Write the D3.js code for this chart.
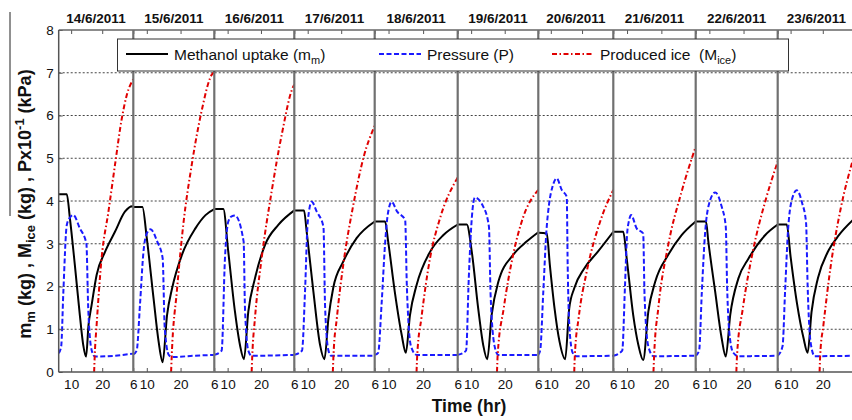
<!DOCTYPE html>
<html>
<head>
<meta charset="utf-8">
<title>Methanol uptake, pressure and produced ice</title>
<style>
  body { margin: 0; background: #fff; }
  svg { display: block; font-family: Arial, "Liberation Sans", sans-serif; }
</style>
</head>
<body>
<div id="chart"></div>
<script src="https://d3js.org/d3.v7.min.js"></script>
<script>

// one panel per day, each running from 6 h to 6 h of the next day
var days = ["14/6/2011", "15/6/2011", "16/6/2011", "17/6/2011", "18/6/2011",
            "19/6/2011", "20/6/2011", "21/6/2011", "22/6/2011", "23/6/2011"];
var hourTicks      = [10, 20, 30];
var hourTickLabels = ["10", "20", "6"];
var yTicks = [0, 1, 2, 3, 4, 5, 6, 7, 8];
var gridValues = [1, 2, 3, 4, 5, 6, 7];

// [hour of the day, value]
var methanol = [
  [[6,4.16],[8.6,4.16],[9.6,3.6],[11.2,2.5],[12.8,1.33],[13.9,0.63],[14.8,0.36],[15.6,1.1],[16.6,1.57],[18.2,2.27],[20.9,2.81],[24.1,3.28],[27.3,3.75],[29.7,3.88],[30,3.86]],
  [[6,3.86],[8.7,3.86],[10,3.13],[12,1.72],[13.5,0.71],[14.7,0.23],[16,1.33],[17.5,1.96],[20.4,2.74],[24.4,3.36],[27.4,3.67],[30,3.81]],
  [[6,3.81],[8.7,3.81],[10.2,2.81],[12.2,1.41],[13.7,0.63],[14.9,0.3],[16.2,1.41],[18.2,2.19],[21.2,2.97],[25.2,3.44],[30,3.78]],
  [[6,3.78],[8.9,3.78],[9.7,3.28],[11.7,1.88],[13.7,0.63],[15,0.3],[16.2,1.26],[17.6,1.96],[20.6,2.58],[24.6,3.13],[30,3.52]],
  [[6,3.52],[9,3.52],[9.9,3.05],[11.8,1.88],[13.8,0.87],[15,0.45],[16.2,1.33],[18.1,2.03],[22,2.81],[25.8,3.2],[30,3.45]],
  [[6,3.45],[8.7,3.45],[10.2,2.81],[12.1,1.49],[13.6,0.63],[14.8,0.3],[16.1,1.33],[18.1,2.11],[22.5,2.74],[26.5,3.05],[30,3.27]],
  [[6,3.26],[8.7,3.24],[9.7,2.5],[11.2,1.49],[12.8,0.71],[14.6,0.3],[15.9,1.49],[17.5,1.96],[20.7,2.42],[25,2.81],[30,3.28]],
  [[6,3.28],[8.9,3.28],[9.9,2.66],[11.8,1.33],[13.3,0.63],[14.7,0.28],[16.2,1.41],[18.2,2.11],[22,2.74],[25.9,3.2],[30,3.52]],
  [[6,3.52],[9,3.52],[9.7,3.05],[11.7,1.88],[13.6,0.79],[14.8,0.36],[16.1,1.33],[18.5,2.19],[21.5,2.66],[26.3,3.2],[30,3.45]],
  [[6,3.45],[8.8,3.45],[10,2.7],[12,1.6],[14,0.8],[15.3,0.45],[16.5,1.4],[18.5,2.2],[21.5,2.8],[25,3.2],[29.3,3.55]]
];
var pressure = [
  [[6,0.44],[6.8,0.6],[7.5,1.88],[8.6,3.44],[9.5,3.6],[10.7,3.67],[12.8,3.36],[14.9,3.01],[15.5,1.49],[16.6,0.51],[17.7,0.36],[24,0.38],[30,0.43]],
  [[6,0.41],[7,0.5],[8,1.6],[9,2.8],[9.8,3.2],[11.1,3.34],[13.1,3.05],[14.7,2.66],[15.3,1.05],[16.5,0.4],[17.5,0.35],[24,0.38],[30,0.4]],
  [[6,0.4],[8.2,0.5],[9.2,2.66],[10.2,3.52],[11.2,3.64],[12.2,3.66],[14.8,3.05],[15.2,1.5],[16.2,0.5],[17.2,0.38],[30,0.4]],
  [[6,0.4],[8.3,0.5],[9.2,1.88],[10,3.5],[11.2,3.98],[12.7,3.75],[14.7,3.4],[15.2,1.5],[16.2,0.5],[17,0.38],[30,0.38]],
  [[6,0.4],[7,0.45],[8,1.6],[9,3.0],[9.8,3.7],[10.9,3.98],[12.5,3.75],[14.8,3.56],[15.3,2.0],[16.5,0.6],[18.1,0.4],[30,0.4]],
  [[6,0.4],[8.5,0.5],[9.3,2.2],[10.2,3.6],[11.1,4.08],[13.6,3.87],[15.3,3.4],[15.8,1.8],[17,0.6],[18.1,0.4],[30,0.4]],
  [[6,0.4],[6.6,0.5],[7.6,1.88],[8.6,3.3],[9.4,3.9],[10.6,4.35],[11.9,4.53],[13.5,4.26],[15.1,4.1],[15.4,2.5],[16,1.0],[17,0.45],[18.2,0.37],[30,0.38]],
  [[6,0.38],[8.6,0.5],[9.4,2.0],[10,3.2],[10.6,3.55],[11.2,3.67],[12.8,3.36],[14.7,3.24],[15.1,1.8],[16.2,0.6],[17.7,0.37],[30,0.38]],
  [[6,0.38],[7,0.5],[7.8,1.88],[8.7,3.2],[9.8,3.9],[11.7,4.2],[13.6,3.87],[14.8,3.4],[15.2,2.0],[16,0.8],[17,0.45],[18.5,0.37],[30,0.38]],
  [[6,0.38],[7.5,0.6],[8.3,1.9],[9.2,3.3],[10.3,4.0],[11.9,4.25],[13.6,3.95],[14.8,3.5],[15.3,2.0],[16.2,0.7],[17.5,0.37],[29.3,0.38]]
];
var ice = [
  [[17.4,0],[17.6,0.4],[18.2,1.1],[19.8,2.66],[22,3.75],[24.1,4.84],[26.3,5.93],[27.9,6.48],[30,6.85]],
  [[17.2,0],[17.4,0.4],[18.9,1.88],[20.8,3.44],[23.3,4.84],[26.2,6.09],[29.2,6.95],[30,7.02]],
  [[17.2,0],[17.4,0.4],[18.2,1.26],[20.2,2.66],[23.2,4.22],[26.2,5.54],[29.7,6.68],[30,6.72]],
  [[17.5,0],[17.7,0.4],[18.7,1.26],[20.6,2.5],[23.6,3.9],[26.6,5.0],[30,5.76]],
  [[18.1,0],[18.3,0.4],[19.5,1.26],[22,2.66],[24.9,3.6],[30,4.55]],
  [[17.7,0],[17.9,0.4],[19.7,1.49],[22.5,2.74],[25.4,3.6],[30,4.26]],
  [[17.5,0],[17.7,0.4],[18.9,1.26],[21.5,2.35],[25.8,3.52],[30,4.26]],
  [[17.7,0],[17.9,0.4],[19.1,1.49],[22,2.97],[25.9,4.22],[30,5.27]],
  [[17.9,0],[18.1,0.4],[19.8,1.49],[22.7,2.81],[26.6,4.06],[30,4.92]],
  [[19,0],[19.2,0.4],[20.2,1.1],[22.5,2.5],[25.5,3.8],[29.3,4.95]]
];

var width = 852, height = 420,
    plotTop = 30, plotBottom = 372;
// left edge of each day panel (the panels are not all the same width)
var panelEdges = [58.7, 133.3, 214.3, 294.3, 374.7, 457.7, 538.3, 613.3, 695.7, 777.7, 855];

var svg = d3.select("#chart").append("svg")
    .attr("width", width)
    .attr("height", height);

svg.append("rect").attr("width", width).attr("height", height).attr("fill", "#fff");

// hours counted from 0 h of the first day, one piece per panel
var x = d3.scaleLinear()
    .domain(d3.range(days.length + 1).map(function(i){ return 6 + 24 * i; }))
    .range(panelEdges);

var y = d3.scaleLinear().domain([0, 8]).range([plotBottom, plotTop]);

var defs = svg.append("defs");
days.forEach(function(d, i){
    defs.append("clipPath").attr("id", "clip" + i)
      .append("rect")
      .attr("x", panelEdges[i]).attr("y", plotTop)
      .attr("width", panelEdges[i+1] - panelEdges[i])
      .attr("height", plotBottom - plotTop);
});

//dotted grid
svg.append("g").selectAll("line")
    .data(gridValues)
    .enter().append("line")
    .attr("x1", panelEdges[0]).attr("x2", width)
    .attr("y1", function(d){ return y(d); })
    .attr("y2", function(d){ return y(d); })
    .attr("stroke", "#444")
    .attr("stroke-width", 1)
    .attr("stroke-dasharray", "2,2");

var series = [
    {data: methanol, color: "#000",    dash: null,            name: "Methanol uptake (m", sub: "m"},
    {data: pressure, color: "#1a1aff", dash: "5,2.5",         name: "Pressure (P)",       sub: null},
    {data: ice,      color: "#e00000", dash: "5,2.5,1.5,2.5", name: "Produced ice  (M",   sub: "ice"}
];

// each day is drawn inside its own panel
days.forEach(function(day, i){
    var line = d3.line()
        .x(function(p){ return x(24 * i + p[0]); })
        .y(function(p){ return y(p[1]); })
        .curve(d3.curveMonotoneX);

    var g = svg.append("g").attr("clip-path", "url(#clip" + i + ")");
    series.forEach(function(s){
        g.append("path")
          .attr("d", line(s.data[i]))
          .attr("fill", "none")
          .attr("stroke", s.color)
          .attr("stroke-width", 2)
          .attr("stroke-dasharray", s.dash);
    });
});

// hour ticks of every panel (the last panel is cut by the picture edge)
var tickHours = [], tickText = {};
days.forEach(function(d, i){
    hourTicks.forEach(function(h, k){
        if (x(24 * i + h) > width - 4) return;
        tickHours.push(24 * i + h);
        tickText[24 * i + h] = hourTickLabels[k];
    });
});

var bottomAxis = svg.append("g")
    .attr("transform", "translate(0," + plotBottom + ")")
    .call(d3.axisBottom(x).tickValues(tickHours)
        .tickFormat(function(v){ return tickText[v]; })
        .tickSizeInner(-4).tickSizeOuter(0).tickPadding(7));
var topAxis = svg.append("g")
    .attr("transform", "translate(0," + plotTop + ")")
    .call(d3.axisTop(x).tickValues(tickHours).tickFormat("")
        .tickSizeInner(-4).tickSizeOuter(0));
var leftAxis = svg.append("g")
    .attr("transform", "translate(" + panelEdges[0] + ",0)")
    .call(d3.axisLeft(y).tickValues(yTicks)
        .tickSizeInner(-4).tickSizeOuter(0).tickPadding(5));

[bottomAxis, topAxis, leftAxis].forEach(function(a){
    a.select(".domain").remove();
    a.selectAll("line").attr("stroke", "#555");
    a.selectAll("text").attr("fill", "#111").style("font-size", "13.5px")
      .style("font-family", "Arial, 'Liberation Sans', sans-serif");
});

// panel frames
svg.append("line")
    .attr("x1", panelEdges[0]).attr("x2", width)
    .attr("y1", plotTop).attr("y2", plotTop)
    .attr("stroke", "#666").attr("stroke-width", 1.5);
svg.append("line")
    .attr("x1", panelEdges[0]).attr("x2", width)
    .attr("y1", plotBottom).attr("y2", plotBottom)
    .attr("stroke", "#555").attr("stroke-width", 1.5);
svg.append("g").selectAll("line")
    .data(panelEdges)
    .enter().append("line")
    .attr("x1", function(d){ return d; })
    .attr("x2", function(d){ return d; })
    .attr("y1", plotTop).attr("y2", plotBottom)
    .attr("stroke", function(d, i){ return i === 0 ? "#555" : "#707070"; })
    .attr("stroke-width", function(d, i){ return i === 0 ? 1.5 : 2.2; });

// day titles
svg.append("g").selectAll("text")
    .data(days)
    .enter().append("text")
    .attr("x", function(d, i){ return (panelEdges[i] + panelEdges[i+1]) / 2; })
    .attr("y", 22.5)
    .attr("text-anchor", "middle")
    .style("font-weight", "bold")
    .style("font-size", "13.5px")
    .attr("fill", "#111")
    .text(function(d){ return d; });

// legend
var legend = svg.append("g");
legend.append("rect")
    .attr("x", 117.5).attr("y", 39)
    .attr("width", 671).attr("height", 32)
    .attr("fill", "#fff").attr("stroke", "#333").attr("stroke-width", 1);

var legendX = [126, 379, 552];
series.forEach(function(s, i){
    var lx = legendX[i];
    legend.append("line")
      .attr("x1", lx).attr("x2", lx + 42)
      .attr("y1", 54).attr("y2", 54)
      .attr("stroke", s.color).attr("stroke-width", 2)
      .attr("stroke-dasharray", s.dash);
    var t = legend.append("text")
      .attr("x", lx + 48).attr("y", 59.5)
      .style("font-size", "15.5px")
      .attr("fill", "#111")
      .attr("xml:space", "preserve");
    t.append("tspan").text(s.name);
    if (s.sub) {
        t.append("tspan").attr("dy", 4).style("font-size", "11px").text(s.sub);
        t.append("tspan").attr("dy", -4).text(")");
    }
});

// y axis title
var yTitle = svg.append("text")
    .attr("transform", "translate(31,204) rotate(-90)")
    .attr("text-anchor", "middle")
    .style("font-weight", "bold")
    .style("font-size", "18px")
    .attr("fill", "#111")
    .attr("xml:space", "preserve");
yTitle.append("tspan").text("m");
yTitle.append("tspan").attr("dy", 4).style("font-size", "13px").text("m");
yTitle.append("tspan").attr("dy", -4).text(" (kg) , M");
yTitle.append("tspan").attr("dy", 4).style("font-size", "13px").text("ice");
yTitle.append("tspan").attr("dy", -4).text(" (kg) , Px10");
yTitle.append("tspan").attr("dy", -7).style("font-size", "13px").text("-1");
yTitle.append("tspan").attr("dy", 7).text(" (kPa)");

svg.append("line")
    .attr("x1", 10).attr("x2", 10)
    .attr("y1", 12).attr("y2", 216)
    .attr("stroke", "#222").attr("stroke-width", 1);

// x axis title
svg.append("text")
    .attr("x", 469).attr("y", 412)
    .attr("text-anchor", "middle")
    .style("font-weight", "bold")
    .style("font-size", "17.5px")
    .attr("fill", "#111")
    .text("Time (hr)");

</script>
</body>
</html>
